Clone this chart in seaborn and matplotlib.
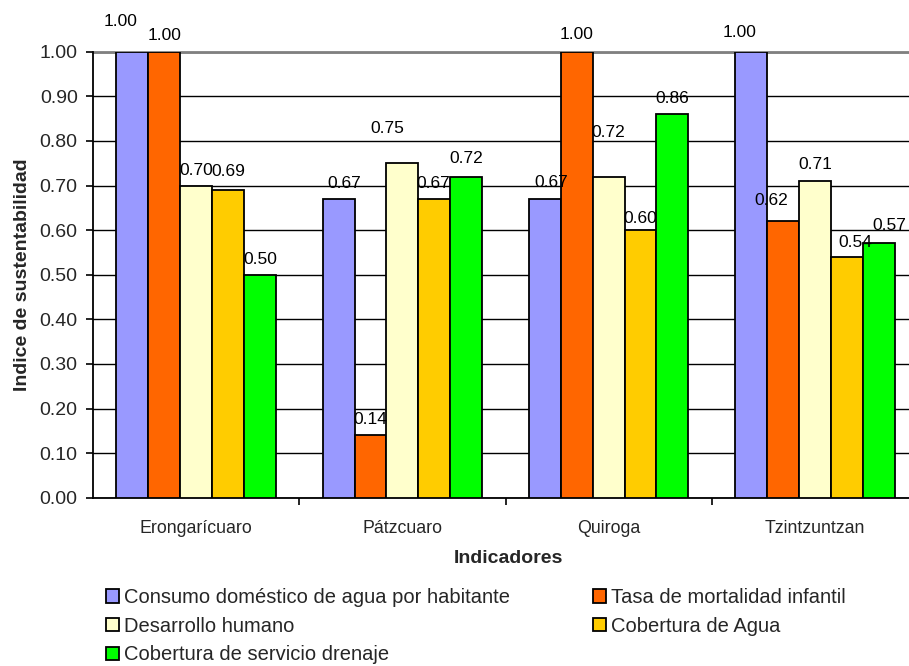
import pandas as pd
import numpy as np
import seaborn as sns
import matplotlib.pyplot as plt
from matplotlib.patches import Patch

# data
municipios = ["Erongarícuaro", "Pátzcuaro", "Quiroga", "Tzintzuntzan"]
indicadores = ["Consumo doméstico de agua por habitante",
               "Tasa de mortalidad infantil",
               "Desarrollo humano",
               "Cobertura de Agua",
               "Cobertura de servicio drenaje"]
consumo = [1.00, 0.67, 0.67, 1.00]
mortalidad = [1.00, 0.14, 1.00, 0.62]
desarrollo = [0.70, 0.75, 0.72, 0.71]
cob_agua = [0.69, 0.67, 0.60, 0.54]
cob_drenaje = [0.50, 0.72, 0.86, 0.57]
y_ticks = [0.0, 0.1, 0.2, 0.3, 0.4, 0.5, 0.6, 0.7, 0.8, 0.9, 1.0]

colores = ["#9999FF", "#FF6600", "#FFFFCC", "#FFCC00", "#00FF00"]

# label offsets (pixels) per indicator, per municipio -- mimics Excel placement
label_off = [
    [(-12, 30), (6, 15), (6, 16), (-12, 19)],
    [(0, 16), (0, 16), (0, 17), (-12, 21)],
    [(0, 15), (-15, 35), (0, 44), (0, 17)],
    [(0, 18), (-1, 15), (0, 12), (9, 14)],
    [(0, 15), (0, 18), (0, 16), (11, 18)],
]

series = [consumo, mortalidad, desarrollo, cob_agua, cob_drenaje]
df = pd.DataFrame({
    "municipio": np.tile(municipios, len(indicadores)),
    "indicador": np.repeat(indicadores, len(municipios)),
    "valor": np.concatenate(series),
})

sns.set_theme(style="white")
plt.rcParams['font.family'] = ['Liberation Sans', 'DejaVu Sans']

fig = plt.figure(figsize=(9.09, 6.66), dpi=100)
ax = fig.add_axes([93 / 909, 1 - 497.7 / 666, 825 / 909, 446 / 666])

sns.barplot(data=df, x="municipio", y="valor", hue="indicador",
            hue_order=indicadores, order=municipios, palette=colores,
            saturation=1, width=0.773, gap=0, edgecolor="black", linewidth=1.3,
            legend=False, ax=ax, zorder=3)

ax.set_xlim(-0.5, 3.5)
ax.set_ylim(0, 1.0)
ax.set_yticks(y_ticks)
ax.set_yticklabels([f"{v:.2f}" for v in y_ticks], fontsize=14)
ax.yaxis.grid(True, color="black", linewidth=1.0, zorder=0)
ax.axhline(1.0, color="gray", linewidth=2, zorder=1, clip_on=False)
ax.set_axisbelow(True)

for s in ["top", "right"]:
    ax.spines[s].set_visible(False)
for s in ["left", "bottom"]:
    ax.spines[s].set_color("black")
    ax.spines[s].set_linewidth(1.3)

ax.tick_params(axis="y", direction="out", length=5, width=1.2, color="black", pad=6, left=True)
ax.tick_params(axis="x", which="major", length=0, pad=16, labelsize=12.8)
ax.set_xticks([0.5, 1.5, 2.5], minor=True)
ax.tick_params(axis="x", which="minor", direction="out", length=5, width=1.2,
               color="black", bottom=True)

ax.set_xlabel("Indicadores", fontsize=14, fontweight="bold")
ax.set_ylabel("Indice de sustentabilidad", fontsize=14, fontweight="bold")
ax.xaxis.set_label_coords((508 - 93) / 825, -(550 - 497.7) / 446)
ax.yaxis.set_label_coords(-(93 - 31) / 825, 0.5)

for i, cont in enumerate(ax.containers):
    for j, bar in enumerate(cont):
        h = bar.get_height()
        dx, dy = label_off[i][j]
        ax.annotate(f"{h:.2f}", (bar.get_x() + bar.get_width() / 2, h),
                    xytext=(dx, dy), textcoords="offset pixels",
                    ha="center", va="center", fontsize=12.5, color="black",
                    annotation_clip=False, zorder=5)

# legend ordered row-wise like the original
order = [0, 2, 4, 1, 3]
handles = [Patch(facecolor=colores[k], edgecolor="black", linewidth=1.3) for k in order]
labels = [indicadores[k] for k in order]
fig.legend(handles, labels, ncol=2, loc="upper left",
           bbox_to_anchor=(106 / 909, 1 - 588 / 666), frameon=False,
           fontsize=14.5, handlelength=0.65, handleheight=0.65,
           handletextpad=0.25, columnspacing=4.1, labelspacing=0.48,
           borderpad=0, borderaxespad=0)

plt.savefig("out.png", dpi=100)
